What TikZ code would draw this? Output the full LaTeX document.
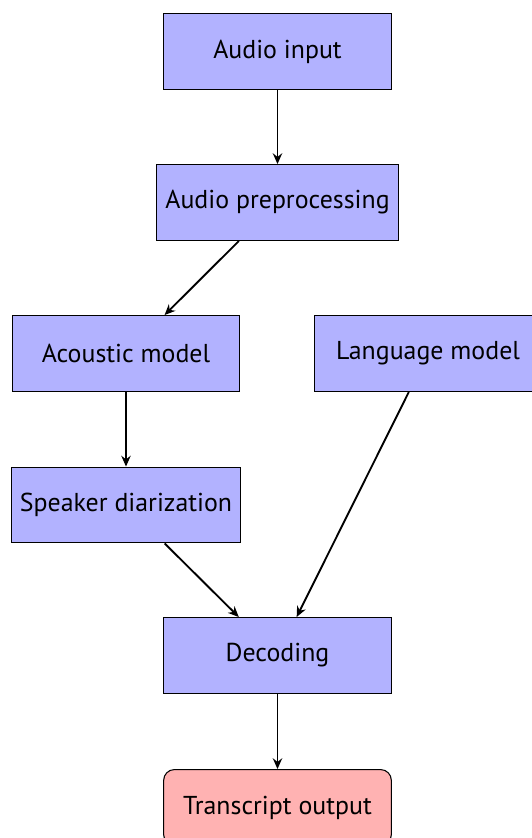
\documentclass[tikz,border=0pt]{standalone}
\usepackage{fontspec}
\setmainfont{PT Sans}
\usetikzlibrary{arrows.meta}
\begin{document}
\begin{tikzpicture}[x=0.375pt,y=-0.375pt,
  proc/.style={draw, fill=blue!30, minimum width=3cm, minimum height=1cm, font=\fontsize{9.7}{11.5}\selectfont},
  outbox/.style={proc, fill=red!30, rounded corners=4pt},
  arr/.style={-{Stealth[length=4pt,width=3.5pt]}, line width=0.7pt}]
\useasboundingbox (0,0) rectangle (532,838);
\node[proc] (in) at (277.5,51.5) {Audio input};
\node[proc] (pre) at (277.5,202.5) {Audio preprocessing};
\node[proc] (ac) at (126,353.5) {Acoustic model};
\node[proc] (lm) at (428,353.5) {Language model};
\node[proc] (sd) at (126,505) {Speaker diarization};
\node[proc] (dec) at (277.5,655.5) {Decoding};
\node[outbox] (out) at (277.5,807.5) {Transcript output};
\draw[arr] (in) -- (pre);
\draw[arr] (pre) -- (ac);
\draw[arr] (ac) -- (sd);
\draw[arr] (sd) -- (dec);
\draw[arr] (lm) -- (dec);
\draw[arr] (dec) -- (out);
\end{tikzpicture}
\end{document}
